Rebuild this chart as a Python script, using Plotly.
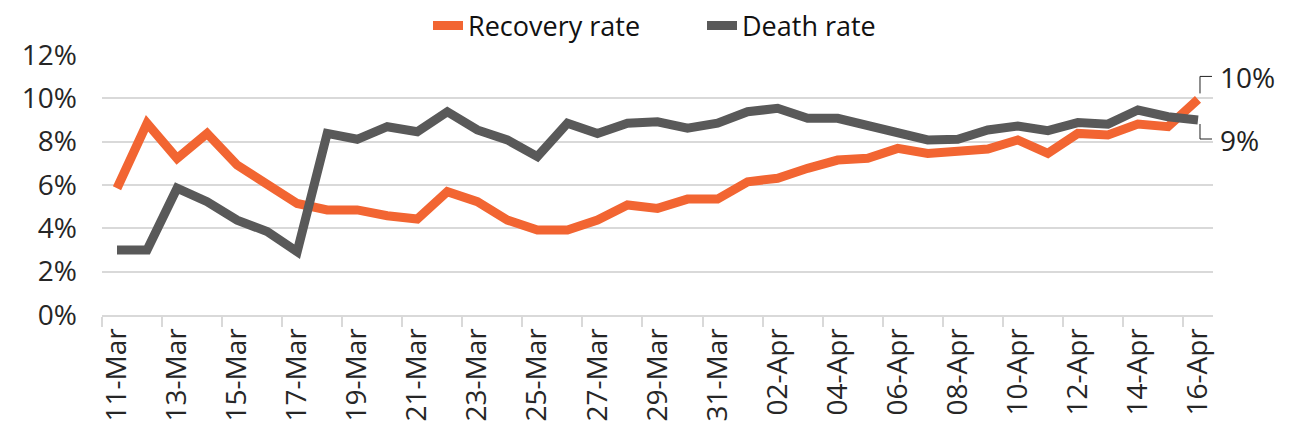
import plotly.graph_objects as go

dates = ["11-Mar", "12-Mar", "13-Mar", "14-Mar", "15-Mar", "16-Mar", "17-Mar", "18-Mar",
         "19-Mar", "20-Mar", "21-Mar", "22-Mar", "23-Mar", "24-Mar", "25-Mar", "26-Mar",
         "27-Mar", "28-Mar", "29-Mar", "30-Mar", "31-Mar", "01-Apr", "02-Apr", "03-Apr",
         "04-Apr", "05-Apr", "06-Apr", "07-Apr", "08-Apr", "09-Apr", "10-Apr", "11-Apr",
         "12-Apr", "13-Apr", "14-Apr", "15-Apr", "16-Apr"]

recovery_rate = [5.85, 8.85, 7.23, 8.38, 6.92, 6.0, 5.15, 4.85, 4.85, 4.58, 4.43, 5.69,
                 5.23, 4.38, 3.92, 3.92, 4.38, 5.08, 4.92, 5.35, 5.35, 6.15, 6.31, 6.77,
                 7.15, 7.23, 7.69, 7.46, 7.51, 7.66, 8.08, 7.46, 8.38, 8.31, 8.81, 8.69, 9.95]

death_rate = [3.0, 3.0, 5.85, 5.23, 4.38, 3.85, 2.92, 8.38, 8.11, 8.69, 8.46, 9.38,
              8.54, 8.08, 7.31, 8.85, 8.38, 8.85, 8.92, 8.62, 8.85, 9.38, 9.54, 9.08,
              9.08, 8.77, 8.46, 8.08, 8.11, 8.54, 8.72, 8.51, 8.88, 8.81, 9.46, 9.15, 9.0]

end_labels = ["10%", "9%"]

ORANGE = "#F26532"
GREY = "#595959"
FONT = "Open Sans"
FS = 28

# page body has an 8px default margin, so the figure is sized to fit the window
W, H = 1285, 424

fig = go.Figure()
fig.add_trace(go.Scatter(x=dates, y=recovery_rate, mode="lines", name="Recovery rate",
                         line=dict(color=ORANGE, width=9), legend="legend"))
fig.add_trace(go.Scatter(x=dates, y=death_rate, mode="lines", name="Death rate",
                         line=dict(color=GREY, width=9), legend="legend2"))

# end-of-line labels with bracket leader lines
fig.add_annotation(x=dates[-1], y=recovery_rate[-1], text=end_labels[0], showarrow=False,
                   xanchor="left", yanchor="middle", xshift=20, yshift=22,
                   font=dict(family=FONT, size=FS, color="#222222"))
fig.add_annotation(x=dates[-1], y=death_rate[-1], text=end_labels[1], showarrow=False,
                   xanchor="left", yanchor="middle", xshift=20, yshift=-20,
                   font=dict(family=FONT, size=FS, color="#222222"))
fig.add_shape(type="path", xref="x", yref="y", xsizemode="pixel", ysizemode="pixel",
              xanchor=dates[-1], yanchor=recovery_rate[-1],
              path="M2,6 L2,23 L14,23", line=dict(color="#222222", width=1))
fig.add_shape(type="path", xref="x", yref="y", xsizemode="pixel", ysizemode="pixel",
              xanchor=dates[-1], yanchor=death_rate[-1],
              path="M2,-4 L2,-19 L14,-19", line=dict(color="#222222", width=1))

legend_common = dict(orientation="h", xanchor="left", yref="container", xref="container",
                     y=1 - 18 / H, yanchor="middle",
                     font=dict(family=FONT, size=27, color="#111111"),
                     itemwidth=30, bgcolor="rgba(0,0,0,0)")

fig.update_layout(
    width=W, height=H,
    margin=dict(l=94, r=80, t=47, b=117, autoexpand=False),
    paper_bgcolor="white", plot_bgcolor="white",
    font=dict(family=FONT, size=FS, color="#262626"),
    showlegend=True,
    legend=dict(x=(428 - 8) / W, **legend_common),
    legend2=dict(x=(702 - 8) / W, **legend_common),
    xaxis=dict(type="category", range=[-0.5, len(dates) - 0.5], autorange=False,
               tickangle=-90, dtick=2, tickson="boundaries",
               ticks="outside", ticklen=10, tickcolor="#d9d9d9", tickwidth=2,
               showline=True, linecolor="#d9d9d9", linewidth=2,
               showgrid=False, zeroline=False, automargin=False,
               tickfont=dict(family=FONT, size=FS, color="#262626")),
    yaxis=dict(range=[0, 12], dtick=2, ticksuffix="%", showgrid=True,
               gridcolor="#d9d9d9", gridwidth=2, zeroline=False, showline=False,
               ticks="", ticklabelstandoff=24, automargin=False,
               tickfont=dict(family=FONT, size=FS, color="#262626")),
)

fig.write_html("out.html")
